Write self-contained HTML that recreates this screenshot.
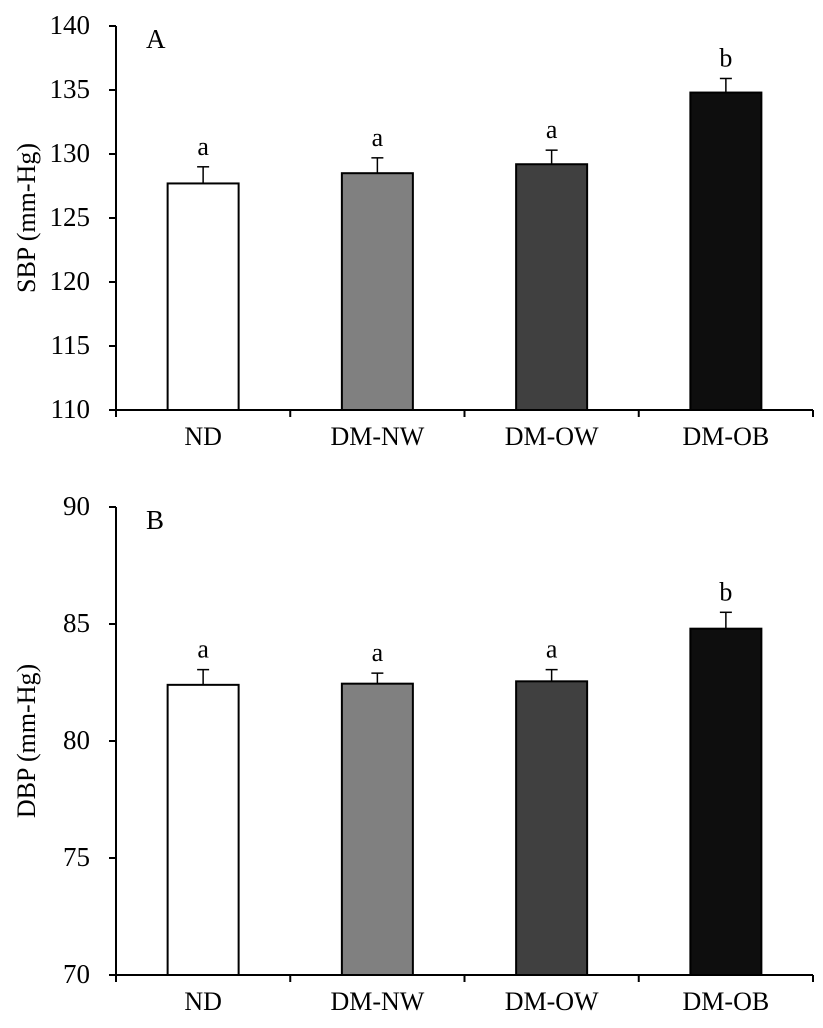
<!DOCTYPE html>
<html><head><meta charset="utf-8"><style>
body{margin:0;background:#fff}
svg text{font-family:"Liberation Serif",serif;fill:#000}
</style></head><body>
<svg id="s" width="823" height="1023" xmlns="http://www.w3.org/2000/svg"></svg>
<script>
const categories=["ND","DM-NW","DM-OW","DM-OB"];
const sbpValues=[127.7,128.5,129.2,134.8];
const sbpErrors=[1.3,1.2,1.1,1.1];
const dbpValues=[82.4,82.45,82.55,84.8];
const dbpErrors=[0.65,0.45,0.5,0.7];
const sbpLetters=["a","a","a","b"];
const dbpLetters=["a","a","a","b"];
const sbpTicks=[110,115,120,125,130,135,140];
const dbpTicks=[70,75,80,85,90];
const fills=["#ffffff","#808080","#404040","#0e0e0e"];
const NS="http://www.w3.org/2000/svg";
const svg=document.getElementById('s');
function mk(t,a,p){const e=document.createElementNS(NS,t);for(const k in a)e.setAttribute(k,a[k]);(p||svg).appendChild(e);return e;}
function panel(o){
 const g=mk('g',{});
 
 
 const x0=116,x1=813,cw=(x1-x0)/categories.length;
 const y=v=>o.yb-(v-o.min)/(o.max-o.min)*(o.yb-o.yt);
 const ax=mk('line',{x1:x0,y1:o.yt,x2:x0,y2:o.yb,stroke:'#000','stroke-width':2},g);
 
 const xa=mk('line',{x1:x0-7,y1:o.yb,x2:x1,y2:o.yb,stroke:'#000','stroke-width':2},g);
 
 o.ticks.forEach(t=>{
  mk('line',{x1:x0-7,y1:y(t),x2:x0,y2:y(t),stroke:'#000','stroke-width':2},g);
  const tx=mk('text',{x:x0-26,y:y(t)+8,'text-anchor':'end',style:'font-size:27px'},g);
  tx.textContent=t;
  
 });
 for(let i=0;i<=categories.length;i++)mk('line',{x1:x0+i*cw,y1:o.yb,x2:x0+i*cw,y2:o.yb+7,stroke:'#000','stroke-width':2},g);
 categories.forEach((c,i)=>{
  const cx=x0+cw*(i+0.5),v=o.vals[i],e=o.errs[i];
  mk('line',{x1:cx,y1:y(v),x2:cx,y2:y(v+e),stroke:'#000','stroke-width':1.5},g);
  mk('line',{x1:cx-6,y1:y(v+e),x2:cx+6,y2:y(v+e),stroke:'#000','stroke-width':1.5},g);
  const b=mk('rect',{x:cx-35.5,y:y(v),width:71,height:o.yb-y(v),fill:fills[i],stroke:'#000','stroke-width':2},g);
  
  const l=mk('text',{x:cx,y:y(v+e)-12,'text-anchor':'middle',style:'font-size:26px'},g);
  l.textContent=o.letters[i];
  
  const xl=mk('text',{x:cx,y:o.yb+35,'text-anchor':'middle',style:'font-size:26px'},g);
  xl.textContent=c;
  
 });
 const tt=mk('text',{x:0,y:0,'text-anchor':'middle',style:'font-size:26px',transform:`translate(35,${(o.yt+o.yb)/2}) rotate(-90)`},g);
 tt.textContent=o.title;
 
 const pl=mk('text',{x:146,y:o.yt+22,style:'font-size:27px'},g);
 pl.textContent=o.label;
 
}
panel({name:'sbp-chart',yt:26,yb:410,min:110,max:140,ticks:sbpTicks,vals:sbpValues,errs:sbpErrors,letters:sbpLetters,title:'SBP (mm-Hg)',label:'A'});
panel({name:'dbp-chart',yt:507,yb:975,min:70,max:90,ticks:dbpTicks,vals:dbpValues,errs:dbpErrors,letters:dbpLetters,title:'DBP (mm-Hg)',label:'B'});
</script>
</body></html>
